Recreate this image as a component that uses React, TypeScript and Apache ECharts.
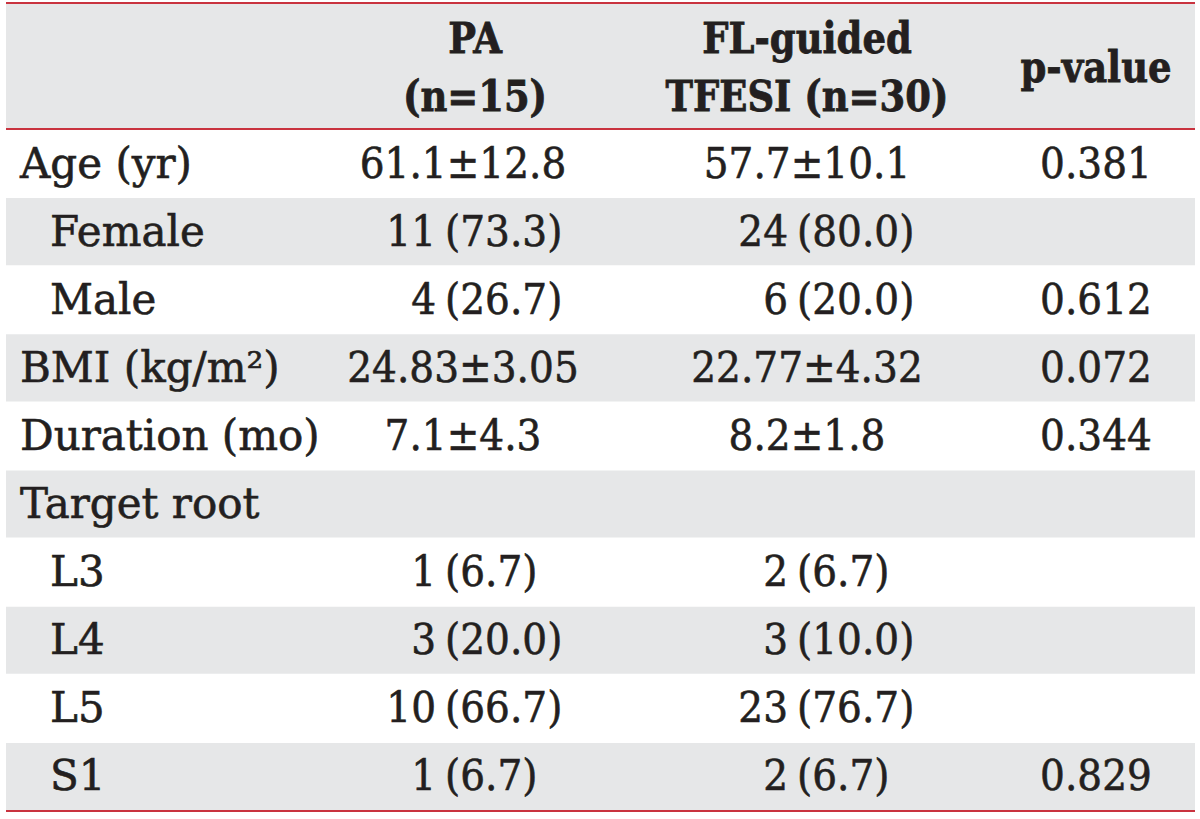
import React, { useEffect, useRef } from "react";
import * as echarts from "echarts";

const headerPA = ["PA", "(n=15)"];
const headerFL = ["FL-guided", "TFESI (n=30)"];
const headerP = "p-value";

const rowLabels = ["Age (yr)", "Female", "Male", "BMI (kg/m²)", "Duration (mo)", "Target root", "L3", "L4", "L5", "S1"];
const rowIndent = [0, 1, 1, 0, 0, 0, 1, 1, 1, 1];
const paValues = ["61.1±12.8", "11 (73.3)", "4 (26.7)", "24.83±3.05", "7.1±4.3", "", "1 (6.7)", "3 (20.0)", "10 (66.7)", "1 (6.7)"];
const flValues = ["57.7±10.1", "24 (80.0)", "6 (20.0)", "22.77±4.32", "8.2±1.8", "", "2 (6.7)", "3 (10.0)", "23 (76.7)", "2 (6.7)"];
const pValues = ["0.381", "", "0.612", "0.072", "0.344", "", "", "", "", "0.829"];

const W = 1200;
const H = 819;
const LEFT = 6;
const RIGHT = 1195;
const HEADER_TOP = 4;
const HEADER_BOTTOM = 129;
const ROW_H = 68.1;
const GRAY = "#e6e7e8";
const RED = "#c9333f";
const INK = "#231f20";
const FONT = "DejaVu Serif";
const FS = 42;
const NUM_SX = 0.93;
const HEAD_SX = 0.88;

const colMeanCenter = [463, 807];
const colCountAnchor = [436, 788];
const pCenter = 1096;

function App() {
  const ref = useRef<HTMLDivElement>(null);
  useEffect(() => {
    if (!ref.current) return;
    const chart = echarts.init(ref.current, null, { renderer: "svg" });
    const els: any[] = [];
    els.push({ type: "rect", shape: { x: LEFT, y: HEADER_TOP, width: RIGHT - LEFT, height: HEADER_BOTTOM - HEADER_TOP }, style: { fill: GRAY } });
    rowLabels.forEach((_, i) => {
      if (i % 2 === 1) {
        els.push({ type: "rect", shape: { x: LEFT, y: HEADER_BOTTOM + 1 + i * ROW_H, width: RIGHT - LEFT, height: ROW_H - 1 }, style: { fill: GRAY } });
      }
    });
    const bottom = HEADER_BOTTOM + 1 + rowLabels.length * ROW_H;
    [3, HEADER_BOTTOM, bottom].forEach((y) => {
      els.push({ type: "line", shape: { x1: LEFT, y1: y, x2: RIGHT, y2: y }, style: { stroke: RED, lineWidth: 2.2 } });
    });
    const txt = (x: number, y: number, text: string, align: string, opts: any = {}) => ({
      type: "text",
      x,
      y,
      scaleX: opts.sx ?? 1,
      style: {
        text,
        align,
        verticalAlign: "middle",
        fill: INK,
        stroke: INK,
        lineWidth: opts.bold ? 0.8 : 0.6,
        font: `${opts.bold ? "bold " : ""}${FS}px "${FONT}"`,
      },
    });
    els.push(txt(475, 38, headerPA[0], "center", { bold: true, sx: HEAD_SX }));
    els.push(txt(475, 96, headerPA[1], "center", { bold: true, sx: HEAD_SX }));
    els.push(txt(807, 38, headerFL[0], "center", { bold: true, sx: HEAD_SX }));
    els.push(txt(807, 96, headerFL[1], "center", { bold: true, sx: HEAD_SX }));
    els.push(txt(pCenter, 67, headerP, "center", { bold: true, sx: HEAD_SX }));
    rowLabels.forEach((label, i) => {
      const cy = HEADER_BOTTOM + 1 + i * ROW_H + ROW_H / 2 - 1;
      els.push(txt(rowIndent[i] ? 50 : 20, cy, label, "left"));
      [paValues[i], flValues[i]].forEach((v, c) => {
        if (!v) return;
        const m = v.match(/^(\d+) \((.*)\)$/);
        if (m) {
          els.push(txt(colCountAnchor[c], cy, m[1], "right", { sx: NUM_SX }));
          els.push(txt(colCountAnchor[c] + 9, cy, `(${m[2]})`, "left", { sx: NUM_SX }));
        } else {
          els.push(txt(colMeanCenter[c], cy, v, "center", { sx: NUM_SX }));
        }
      });
      if (pValues[i]) els.push(txt(pCenter, cy, pValues[i], "center", { sx: NUM_SX }));
    });
    chart.setOption({ animation: false, backgroundColor: "#ffffff", graphic: { elements: els } });
    return () => chart.dispose();
  }, []);
  return <div ref={ref} style={{ position: "absolute", left: 0, top: 0, width: W, height: H }} />;
}

export default App;
